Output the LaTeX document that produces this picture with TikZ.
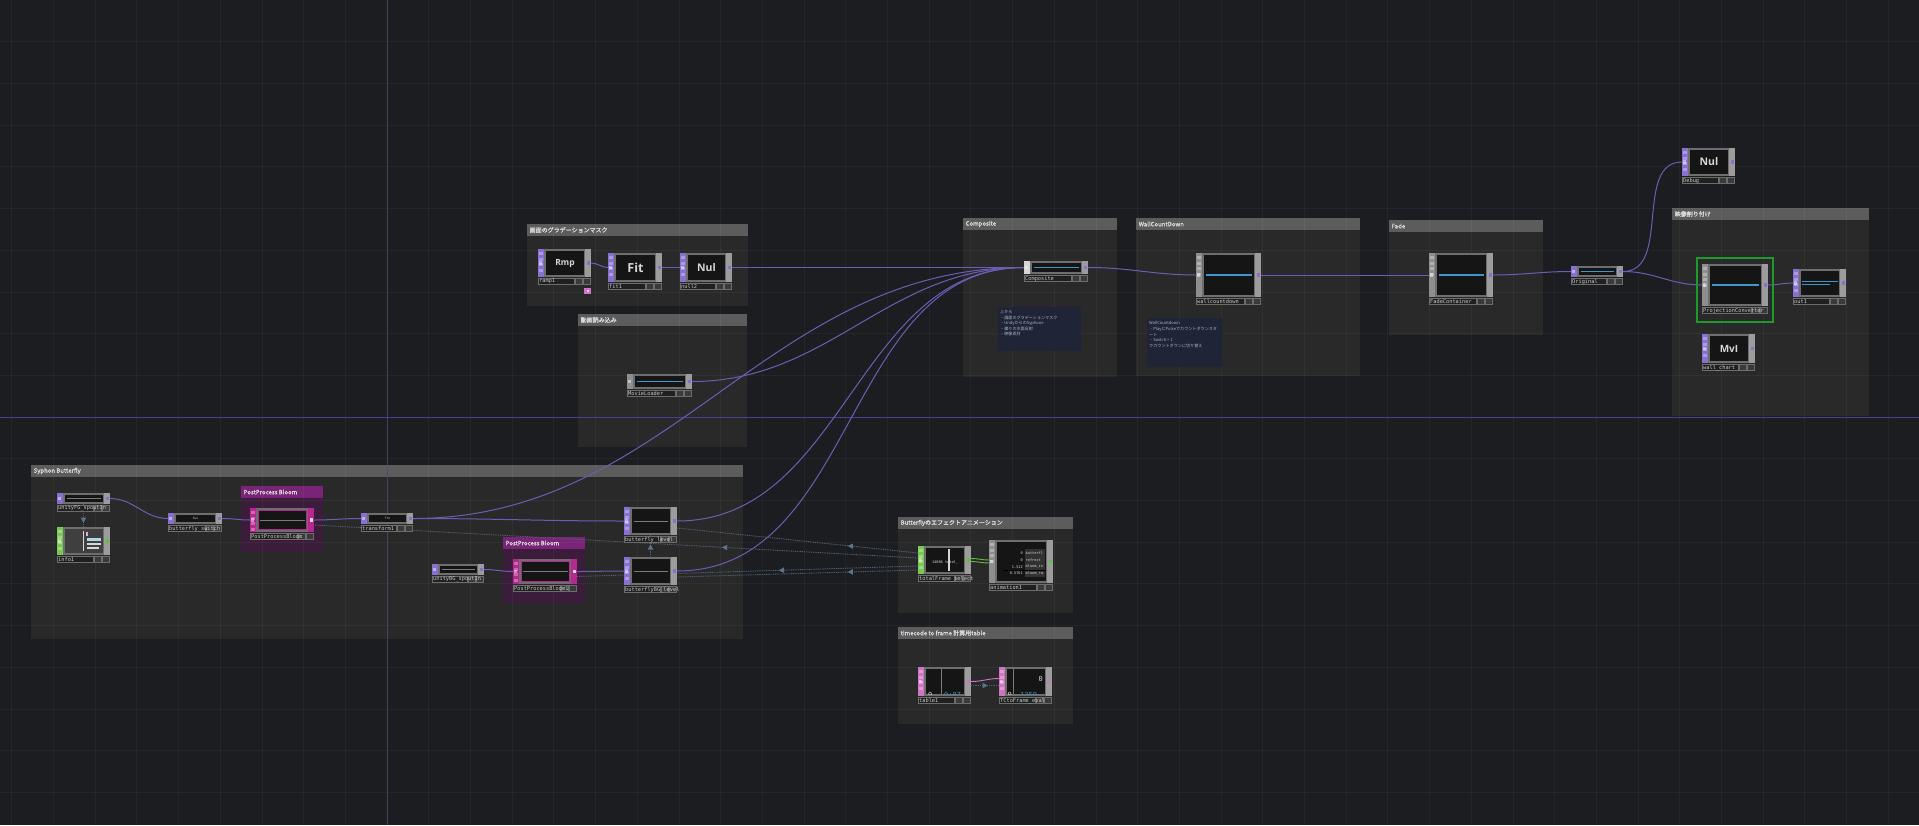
\documentclass[tikz,border=0pt]{standalone}
\usepackage{fontspec}
\setmainfont{Open Sans}
\newfontfamily\jp[AutoFakeBold=1.2]{Noto Sans CJK JP}
\newfontfamily\mono{DejaVu Sans Mono}
\usetikzlibrary{arrows.meta,decorations.markings}
\pgfdeclarelayer{back}
\pgfdeclarelayer{wires}
\pgfsetlayers{back,wires,main}

\definecolor{bgc}{HTML}{1C1D21}
\definecolor{axisv}{HTML}{4A4C62}
\definecolor{axish}{HTML}{4A46A0}
\definecolor{grpbody}{HTML}{292929}
\definecolor{grphead}{HTML}{5C5C5C}
\definecolor{grptext}{HTML}{DADADA}
\definecolor{bloombody}{HTML}{3B1D3B}
\definecolor{bloomhead}{HTML}{7A2478}
\definecolor{cmtc}{HTML}{1F2536}
\definecolor{cmttext}{HTML}{AEB6C8}
\definecolor{wirec}{HTML}{6C5DB4}
\definecolor{refc}{HTML}{4F6072}
\definecolor{reftri}{HTML}{5C7289}
\definecolor{framec}{HTML}{6E6E6E}
\definecolor{viewc}{HTML}{151515}
\definecolor{rstripc}{HTML}{9C9C9C}
\definecolor{purplec}{HTML}{8770CF}
\definecolor{greenc}{HTML}{78C952}
\definecolor{greenconn}{HTML}{5FBF3A}
\definecolor{pinkc}{HTML}{D173C4}
\definecolor{magc}{HTML}{B52890}
\definecolor{grayc}{HTML}{8E8E8E}
\definecolor{whitec}{HTML}{D6D6D6}
\definecolor{cyanc}{HTML}{3E96CF}
\definecolor{lblfill}{HTML}{202020}
\definecolor{lbldraw}{HTML}{6C6C6C}
\definecolor{lbltext}{HTML}{C8C8C8}
\definecolor{sqc}{HTML}{3A3A3A}
\definecolor{hlgreen}{HTML}{1E9A2A}
\definecolor{dimline}{HTML}{7A7A7A}

\tikzset{
  tdbody/.style={fill=framec, inner sep=0pt, outer sep=0pt, anchor=north west, draw=none},
  lbltxt/.style={anchor=west, inner sep=0pt, text=lbltext, font=\mono\fontsize{5.3}{5.5}\selectfont},
  bigtxt/.style={text=whitec, inner sep=0pt},
  tinyt/.style={text=whitec, inner sep=0pt, font=\mono\fontsize{3}{3}\selectfont},
  animt/.style={text=whitec, inner sep=0pt, font=\mono\fontsize{3.6}{4}\selectfont},
  grptitle/.style={text=grptext, inner sep=0pt, font=\jp\bfseries\fontsize{6}{6}\selectfont},
  cmt/.style={anchor=north west, inner sep=0pt, align=left, text=cmttext, font=\jp\fontsize{4.1}{5.6}\selectfont},
  wire/.style={draw=wirec, line width=1pt},
  gwire/.style={draw=greenconn, line width=0.9pt},
  pwire/.style={draw=pinkc, line width=0.9pt},
  refl/.style={draw=refc, line width=0.9pt, dash pattern=on 1pt off 0.8pt},
  gridl/.style={draw=white, draw opacity=0.04, line width=0.8pt},
  tri at/.style={postaction={decorate,decoration={markings,mark=at position #1 with {\fill[reftri] (2.8pt,0pt) -- (-2.4pt,2.8pt) -- (-2.4pt,-2.8pt) -- cycle;}}}}
}

% operator node: name, x, y, w, h, left strip colour, output colour, label
\newcommand{\tdnode}[8]{%
  \node[tdbody, minimum width=#4pt, minimum height=#5pt] (#1) at (#2,#3) {};
  \fill[#6] (#1.north west) rectangle ([xshift=6pt]#1.south west);
  \fill[rstripc] ([xshift=-6pt]#1.north east) rectangle (#1.south east);
  \fill[viewc] ([xshift=8pt,yshift=-2pt]#1.north west) rectangle ([xshift=-7pt,yshift=2pt]#1.south east);
  \fill[#7] ([xshift=-4.5pt,yshift=1.6pt]#1.east) rectangle ([xshift=-1.5pt,yshift=-1.6pt]#1.east);
  \fill[white, opacity=0.45] ([xshift=0.8pt,yshift=1.6pt]#1.west) rectangle ([xshift=3.6pt,yshift=-1.6pt]#1.west);
  \ifdim #5pt>20pt
    \foreach \i in {0,...,3}{\fill[white, opacity=0.3] ([xshift=1.4pt,yshift={-3pt-\i*5.5pt}]#1.north west) rectangle ++(3.2pt,-3.2pt);}
  \fi
  \filldraw[fill=lblfill, draw=lbldraw, line width=0.4pt] ([yshift=-1.5pt]#1.south west) rectangle ([xshift=-17pt,yshift=-7.5pt]#1.south east);
  \filldraw[fill=sqc, draw=lbldraw, line width=0.4pt] ([xshift=-15.5pt,yshift=-1.5pt]#1.south east) rectangle ([xshift=-9pt,yshift=-7.5pt]#1.south east);
  \filldraw[fill=sqc, draw=lbldraw, line width=0.4pt] ([xshift=-7.5pt,yshift=-1.5pt]#1.south east) rectangle ([xshift=-1pt,yshift=-7.5pt]#1.south east);
  \node[lbltxt] (#1-l) at ([xshift=1pt,yshift=-4.6pt]#1.south west) {#8};
}
\newcommand{\bigt}[3]{\node[bigtxt, font=\bfseries\fontsize{#3}{#3}\selectfont] (#1-t) at ([xshift=0.5pt]#1.center) {#2};}
\newcommand{\cyanl}[1]{\fill[cyanc] ([xshift=10pt,yshift=0.6pt]#1.west) rectangle ([xshift=-9pt,yshift=-0.6pt]#1.east);}
\newcommand{\grayl}[1]{\fill[dimline] ([xshift=10pt,yshift=0.5pt]#1.west) rectangle ([xshift=-9pt,yshift=-0.5pt]#1.east);}
% group box: name, x1, y1, x2, y2, title, body colour, head colour
\newcommand{\grp}[8]{%
  \fill[#7] (#2,#3) rectangle (#4,#5);
  \fill[#8] (#2,#3) rectangle (#4,{#3+12});
  \node[grptitle, anchor=west] (#1) at ({#2+2.5},{#3+6}) {#6};
}

\begin{document}
\begin{tikzpicture}[x=1pt,y=-1pt]
\useasboundingbox (0,0) rectangle (1919,825);
\begin{pgfonlayer}{back}
\fill[bgc] (0,0) rectangle (1919,825);
\grp{g1}{527}{224}{748}{306}{画面のグラデーションマスク}{grpbody}{grphead}
\grp{g2}{578}{314}{747}{447}{動画読み込み}{grpbody}{grphead}
\grp{g3}{963}{218}{1117}{377}{Composite}{grpbody}{grphead}
\grp{g4}{1136}{218}{1360}{376}{WallCountDown}{grpbody}{grphead}
\grp{g5}{1389}{220}{1543}{335}{Fade}{grpbody}{grphead}
\grp{g6}{1672}{208}{1869}{416}{映像割り付け}{grpbody}{grphead}
\grp{g7}{31}{465}{743}{639}{Syphon Butterfly}{grpbody}{grphead}
\grp{g8}{241}{486}{323}{552}{PostProcess Bloom}{bloombody}{bloomhead}
\grp{g9}{503}{537}{585}{603}{PostProcess Bloom}{bloombody}{bloomhead}
\grp{g10}{898}{517}{1073}{613}{Butterflyのエフェクトアニメーション}{grpbody}{grphead}
\grp{g11}{898}{627}{1073}{724}{timecode to frame 計算用table}{grpbody}{grphead}
\foreach \k in {-9,...,36} \draw[gridl] ({387+41.7*\k},0) -- ({387+41.7*\k},825);
\foreach \k in {-9,...,9} \draw[gridl] (0,{417+41.7*\k}) -- (1919,{417+41.7*\k});
\draw[axisv, line width=0.8pt, opacity=0.8] (387,0) -- (387,825);
\draw[axish, line width=1pt, opacity=0.85] (0,417) -- (1919,417);
% comments
\fill[cmtc] (998,307) rectangle (1081,351);
\node[cmt] (c1) at (1000,310) {上から\\・画面のグラデーションマスク\\・UnityからのSyphone\\・蝶々の水面反射\\・映像素材};
\fill[cmtc] (1147,318) rectangle (1222,367);
\node[cmt] (c2) at (1149,321.5) {WallCountdown\\・PlayにPulseでカウントダウンスタ\\ート\\・Switch = 1\\でカウントダウンに切り替え};
\end{pgfonlayer}

% ---------- nodes ----------
\tdnode{ramp1}{538}{249}{53}{28}{purplec}{purplec}{ramp1}
\bigt{ramp1}{Rmp}{8.5}
\fill[pinkc] (584,288) rectangle (591,294);
\fill[white, opacity=0.7] (586.5,290) rectangle (588.5,292);
\tdnode{fit1}{608}{253}{54}{29}{purplec}{purplec}{fit1}
\bigt{fit1}{Fit}{12.5}
\tdnode{null2}{680}{253}{52}{29}{purplec}{purplec}{null2}
\bigt{null2}{Nul}{10.5}
\tdnode{movieloader}{627}{374}{65}{15}{grayc}{purplec}{MovieLoader}
\cyanl{movieloader}
\tdnode{composite}{1024}{261}{64}{13}{whitec}{purplec}{Composite}
\cyanl{composite}
\tdnode{wallcd}{1196}{253}{65}{44}{grayc}{purplec}{wallcountdown}
\cyanl{wallcd}
\tdnode{fade}{1429}{253}{64}{44}{grayc}{purplec}{FadeContainer}
\cyanl{fade}
\tdnode{original}{1571}{266}{52}{11}{purplec}{purplec}{Original}
\cyanl{original}
\tdnode{debug}{1682}{148}{53}{28}{purplec}{purplec}{Debug}
\bigt{debug}{Nul}{10.5}
\draw[hlgreen, line width=1.6pt] (1697,258) rectangle (1773,322);
\tdnode{projconv}{1702}{264}{66}{42}{grayc}{purplec}{ProjectionConverter}
\cyanl{projconv}
\tdnode{out1}{1793}{269}{53}{28}{purplec}{purplec}{out1}
\fill[cyanc] (1802,280.5) rectangle (1838,281.5);
\fill[cyanc] (1802,283.5) rectangle (1830,284.5);
\tdnode{wallchart}{1702}{334}{53}{29}{purplec}{purplec}{wall\_chart}
\bigt{wallchart}{MvI}{10}

\tdnode{unityfg}{57}{493}{53}{11}{purplec}{purplec}{unityFG\_spoutIn}
\grayl{unityfg}
\tdnode{info1}{57}{527}{53}{28}{greenc}{greenconn}{info1}
\fill[white, opacity=0.18] (65,529) rectangle (103,553);
\draw[whitec, line width=0.5pt] (83,531) -- (83,551);
\fill[cyanc!40!white] (87,538) rectangle (101,540.5);
\fill[whitec] (87,543) rectangle (101,545);
\fill[whitec] (87,547) rectangle (99,549);
\fill[pinkc!60!white] (86,532) rectangle (88,536);
\tdnode{bswitch}{168}{513}{54}{11}{purplec}{purplec}{butterfly\_switch}
\node[tinyt] (bswitch-t) at ([xshift=0.5pt]bswitch.center) {Swi};
\tdnode{bloom}{250}{508}{64}{24}{magc}{whitec}{PostProcessBloom}
\fill[magc] ([xshift=-6pt]bloom.north east) rectangle (bloom.south east);
\fill[whitec] ([xshift=-4.5pt,yshift=1.6pt]bloom.east) rectangle ([xshift=-1.5pt,yshift=-1.6pt]bloom.east);
\draw[magc, line width=1.4pt] ([xshift=8.7pt,yshift=-2.7pt]bloom.north west) rectangle ([xshift=-7.7pt,yshift=2.7pt]bloom.south east);
\grayl{bloom}
\tdnode{transform1}{361}{513}{52}{11}{purplec}{purplec}{transform1}
\node[tinyt] (transform1-t) at ([xshift=0.5pt]transform1.center) {Trn};
\tdnode{blevel}{624}{507}{53}{28}{purplec}{purplec}{butterfly\_level}
\grayl{blevel}
\tdnode{bglevel}{624}{557}{53}{28}{purplec}{purplec}{butterflyBG\_level}
\grayl{bglevel}
\tdnode{unitybg}{432}{564}{52}{11}{purplec}{purplec}{unityBG\_spoutIn}
\grayl{unitybg}
\tdnode{bloom1}{513}{559}{64}{25}{magc}{whitec}{PostProcessBloom1}
\fill[magc] ([xshift=-6pt]bloom1.north east) rectangle (bloom1.south east);
\fill[whitec] ([xshift=-4.5pt,yshift=1.6pt]bloom1.east) rectangle ([xshift=-1.5pt,yshift=-1.6pt]bloom1.east);
\draw[magc, line width=1.4pt] ([xshift=8.7pt,yshift=-2.7pt]bloom1.north west) rectangle ([xshift=-7.7pt,yshift=2.7pt]bloom1.south east);
\grayl{bloom1}

\tdnode{totalframe}{918}{546}{53}{28}{greenc}{greenconn}{totalFrame\_select}
\fill[whitec] (947.5,549) rectangle (949.5,571);
\node[animt] (tf-t) at (945,563) {14886 total\_};
\tdnode{animation1}{989}{540}{64}{43}{grayc}{greenconn}{animation1}
\fill[white, opacity=0.12] (1025,549) rectangle (1045,577);
\node[animt, anchor=east] (a1v) at (1023,553) {0};
\node[animt, anchor=west] (a1n) at (1025.5,553) {butterfl};
\node[animt, anchor=east] (a2v) at (1023,560) {0};
\node[animt, anchor=west] (a2n) at (1025.5,560) {refrect};
\node[animt, anchor=east] (a3v) at (1023,566.7) {1.512};
\node[animt, anchor=west] (a3n) at (1025.5,566.7) {bloom\_in};
\node[animt, anchor=east] (a4v) at (1023,573.5) {0.5761};
\node[animt, anchor=west] (a4n) at (1025.5,573.5) {bloom\_ra};
\fill[black] (1003,569.8) rectangle (1046,570.8);

\tdnode{table1}{918}{667}{53}{29}{pinkc}{pinkc}{table1}
\begin{scope}
\clip (926,669) rectangle (964,694);
\draw[dimline, line width=0.5pt] (941.5,669) -- (941.5,694);
\node[anchor=base west, inner sep=0pt, text=whitec, font=\mono\fontsize{7}{7}\selectfont] (t1a) at (928,697) {0};
\node[anchor=base west, inner sep=0pt, text=cyanc, font=\mono\fontsize{7}{7}\selectfont] (t1b) at (944,697) {0:07};
\end{scope}
\tdnode{tcframe}{999}{667}{53}{29}{pinkc}{pinkc}{TCtoFrame\_eval}
\begin{scope}
\clip (1007,669) rectangle (1045,694);
\draw[dimline, line width=0.5pt] (1013,669) -- (1013,694);
\node[anchor=base east, inner sep=0pt, text=whitec, font=\mono\fontsize{7}{7}\selectfont] (tc0) at (1043,681) {0};
\node[anchor=base west, inner sep=0pt, text=whitec, font=\mono\fontsize{7}{7}\selectfont] (tca) at (1007.5,697) {0};
\node[anchor=base west, inner sep=0pt, text=cyanc, font=\mono\fontsize{7}{7}\selectfont] (tcb) at (1020,697) {1350};
\end{scope}

% ---------- wires ----------
\begin{pgfonlayer}{wires}
\draw[wire] (ramp1.east) to[out=0,in=180] (fit1.west);
\draw[wire] (fit1.east) to[out=0,in=180] (null2.west);
\draw[wire] (null2.east) to[out=0,in=180] (composite.west);
\draw[wire] (movieloader.east) to[out=0,in=180] (composite.west);
\draw[wire] (transform1.east) to[out=0,in=180] (composite.west);
\draw[wire] (blevel.east) to[out=0,in=180] (composite.west);
\draw[wire] (bglevel.east) to[out=0,in=180] (composite.west);
\draw[wire] (composite.east) to[out=0,in=180] (wallcd.west);
\draw[wire] (wallcd.east) -- (fade.west);
\draw[wire] (fade.east) to[out=0,in=180] (original.west);
\draw[wire] (original.east) to[out=0,in=180] (debug.west);
\draw[wire] (original.east) to[out=0,in=180] (projconv.west);
\draw[wire] (projconv.east) to[out=0,in=180] (out1.west);
\draw[wire] (unityfg.east) to[out=0,in=180] (bswitch.west);
\draw[wire] (bswitch.east) to[out=0,in=180] (bloom.west);
\draw[wire] (bloom.east) to[out=0,in=180] (transform1.west);
\draw[wire] (transform1.east) to[out=0,in=180] (blevel.west);
\draw[wire] (unitybg.east) to[out=0,in=180] (bloom1.west);
\draw[wire] (bloom1.east) to[out=0,in=180] (bglevel.west);
\draw[gwire] ([yshift=1.5pt]totalframe.east) to[out=0,in=180] ([yshift=1.5pt]animation1.west);
\draw[gwire] ([yshift=-1.5pt]totalframe.east) to[out=0,in=180] ([yshift=-1.5pt]animation1.west);
\draw[pwire] (table1.east) to[out=0,in=180] ([yshift=3pt]tcframe.west);
% reference (dependency) links
\draw[refl, tri at=0.32] ([yshift=2pt]totalframe.west) -- ([yshift=-5pt]bloom.east);
\draw[refl, tri at=0.28] ([yshift=7pt]totalframe.west) -- ([yshift=-7pt]blevel.east);
\draw[refl, tri at=0.40] ([yshift=-6pt]totalframe.west) -- ([yshift=-5pt]bloom1.east);
\draw[refl, tri at=0.28] ([yshift=-10pt]totalframe.west) -- ([yshift=-6pt]bglevel.east);
\draw[refl, tri at=0.45] (bglevel.north) -- (blevel.south);
\draw[refl, tri at=0.7] (unityfg.south) -- (info1.north);
\draw[refl, tri at=0.5] ([yshift=-4pt]table1.east) -- ([yshift=-4pt]tcframe.west);
\end{pgfonlayer}
\end{tikzpicture}
\end{document}
